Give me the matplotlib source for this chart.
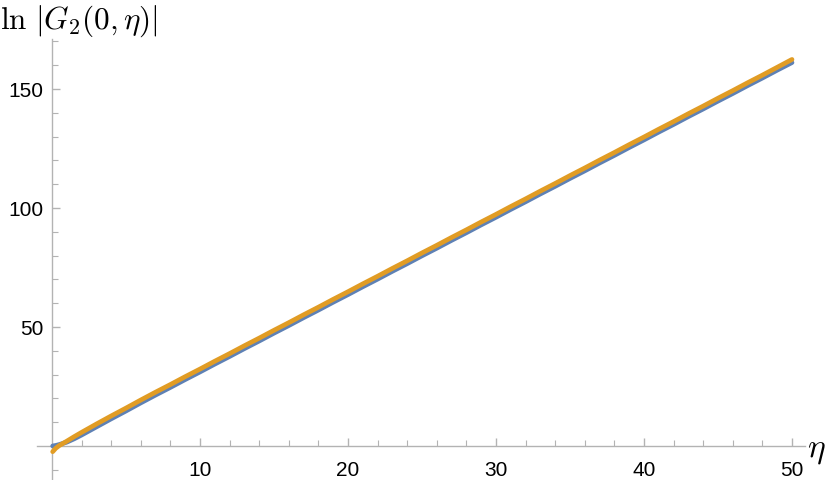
import matplotlib
matplotlib.use("Agg")
import matplotlib.pyplot as plt
from matplotlib.ticker import FixedLocator, NullFormatter

plt.rcParams['font.family'] = ['Liberation Sans', 'DejaVu Sans']
plt.rcParams['mathtext.fontset'] = 'cm'

# ---- data ----
eta = [0.05, 0.25, 0.5, 1, 1.5, 2, 3, 4, 5, 6, 7, 8, 9, 10,
       11, 12, 13, 14, 15, 16, 17, 18, 19, 20,
       21, 22, 23, 24, 25, 26, 27, 28, 29, 30,
       31, 32, 33, 34, 35, 36, 37, 38, 39, 40,
       41, 42, 43, 44, 45, 46, 47, 48, 49, 50]
blue = [0.0, 0.2, 0.6, 1.6, 3.0, 4.6, 8.0, 11.4, 14.7, 18.1, 21.4, 24.6, 27.9, 31.1,
        34.4, 37.6, 40.9, 44.1, 47.4, 50.6, 53.9, 57.1, 60.4, 63.6,
        66.9, 70.1, 73.4, 76.6, 79.9, 83.1, 86.4, 89.6, 92.9, 96.1,
        99.4, 102.6, 105.9, 109.1, 112.4, 115.6, 118.9, 122.1, 125.4, 128.6,
        131.9, 135.1, 138.4, 141.6, 144.9, 148.1, 151.4, 154.6, 157.9, 161.1]
orange = [-2.4, -1.0, 0.2, 2.0, 3.9, 5.7, 9.2, 12.6, 15.9, 19.3, 22.6, 25.8, 29.1, 32.3,
          35.6, 38.8, 42.1, 45.3, 48.6, 51.8, 55.1, 58.3, 61.6, 64.8,
          68.1, 71.3, 74.6, 77.8, 81.1, 84.3, 87.6, 90.8, 94.1, 97.3,
          100.6, 103.8, 107.1, 110.3, 113.6, 116.8, 120.1, 123.3, 126.6, 129.8,
          133.1, 136.3, 139.6, 142.8, 146.1, 149.3, 152.6, 155.8, 159.1, 162.4]

x_major = [10, 20, 30, 40, 50]
x_minor = [2, 4, 6, 8, 12, 14, 16, 18, 22, 24, 26, 28, 32, 34, 36, 38,
           42, 44, 46, 48]
y_major = [50, 100, 150]
y_minor = [-10, 10, 20, 30, 40, 60, 70, 80, 90, 110, 120, 130, 140, 160, 170]

BLUE = '#5E81B5'
ORANGE = '#E19C24'
AXC = '#b3b3b3'

fig = plt.figure(figsize=(8.31, 4.81), dpi=100)
ax = fig.add_axes([37/831, 0.0, 768/831, 441/481])

ax.plot(eta, blue, '-', color=BLUE, lw=3.4, solid_capstyle='round',
        solid_joinstyle='round', zorder=3, clip_on=False)
ax.plot(eta, orange, '-', color=ORANGE, lw=3.4, solid_capstyle='round',
        solid_joinstyle='round', zorder=4, clip_on=False)

ax.set_xlim(-1.01, 50.88)
ax.set_ylim(-14.3, 171.0)

for s in ['top', 'right']:
    ax.spines[s].set_visible(False)
ax.spines['left'].set_position(('data', 0))
ax.spines['bottom'].set_position(('data', 0))
for s in ['left', 'bottom']:
    ax.spines[s].set_color(AXC)
    ax.spines[s].set_linewidth(1.0)

ax.xaxis.set_major_locator(FixedLocator(x_major))
ax.xaxis.set_minor_locator(FixedLocator(x_minor))
ax.yaxis.set_major_locator(FixedLocator(y_major))
ax.yaxis.set_minor_locator(FixedLocator(y_minor))
ax.xaxis.set_minor_formatter(NullFormatter())
ax.yaxis.set_minor_formatter(NullFormatter())

ax.tick_params(which='major', direction='in', length=6, width=1.0,
               color=AXC, labelsize=15, labelcolor='black')
ax.tick_params(which='minor', direction='in', length=4, width=0.8, color=AXC)
ax.tick_params(axis='x', which='major', pad=10)
ax.tick_params(axis='y', which='major', pad=6)

fig.text(0.0, 1 - 21/481, r'$\ln\,|G_2(0,\eta)|$', fontsize=22.5,
         ha='left', va='center')
fig.text(807/831, 1 - 450/481, r'$\eta$', fontsize=24,
         ha='left', va='center')

fig.savefig('out.png', dpi=100)
